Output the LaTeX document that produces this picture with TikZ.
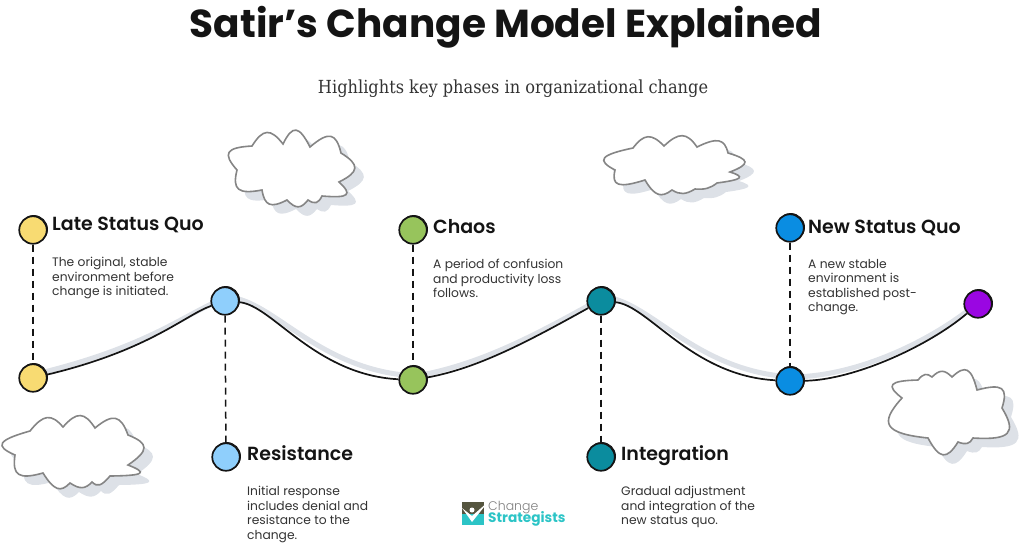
\documentclass[tikz,border=0pt]{standalone}
\usepackage{fontspec}
\usepackage{xcolor}
\usetikzlibrary{backgrounds,calc}
\setmainfont{Poppins}
\newfontfamily\subfont{DejaVu Serif Condensed}
\newfontfamily\headfont{Poppins SemiBold}
\newfontfamily\lightfont{Poppins Light}
\definecolor{shadegrey}{HTML}{DDE1E7}
\definecolor{cloudgrey}{HTML}{858585}
\definecolor{inkblack}{HTML}{141414}
\definecolor{bodygrey}{HTML}{333333}
\definecolor{yellowdot}{HTML}{F8DB72}
\definecolor{skydot}{HTML}{8FCFFC}
\definecolor{greendot}{HTML}{97C45C}
\definecolor{tealdot}{HTML}{0B8C9E}
\definecolor{bluedot}{HTML}{0A8DE2}
\definecolor{purpledot}{HTML}{9A06E2}
\definecolor{logoteal}{HTML}{2CC4C6}
\definecolor{logodark}{HTML}{55553F}
\tikzset{
  dotnode/.style={circle,draw=inkblack,line width=1.7pt,inner sep=0pt,minimum size=27.5pt,
    preaction={draw=inkblack,line width=1pt,transform canvas={xshift=.7pt,yshift=.7pt}}},
  headnode/.style={anchor=base west,inner sep=0pt,text=inkblack,font=\headfont\fontsize{19}{22}\selectfont},
  bodynode/.style={anchor=north west,inner sep=0pt,align=left,text=bodygrey,font=\fontsize{12.3}{14.5}\selectfont},
  stem/.style={draw=inkblack,line width=1.5pt,dash pattern=on 7pt off 5pt},
  wave/.style={draw=inkblack,line width=1.7pt},
  waveshade/.style={draw=shadegrey,line width=5pt},
  shadeat/.style={shift={(3,-4)}},
}
\newcommand{\lobe}[3]{.. controls ($(#1)!.76!(#2)$) and ($(#3)!.76!(#2)$) .. (#3)}
\newcommand{\cloudshape}[1]{%
  \fill[shadegrey,shift={(9,9)}] #1;
  \draw[cloudgrey,fill=white,line width=1.6pt] #1;
}
\begin{document}
\begin{tikzpicture}[x=1pt,y=-1pt]
\useasboundingbox (0,0) rectangle (1024,544);
%
\node (title) at (506,27) {\fontsize{39}{41}\selectfont\bfseries\color{inkblack}Satir's Change Model Explained};
\node (subtitle) at (513,89) {\subfont\fontsize{18}{22}\selectfont\color{bodygrey}Highlights key phases in organizational change};
%
\cloudshape{(237,170) \lobe{237,170}{217.5,148}{252,146} \lobe{252,146}{266.5,123}{283,144} \lobe{283,144}{295.5,118.5}{310,147} \lobe{310,147}{334.5,126}{341,153} \lobe{341,153}{366,168.5}{339,182} \lobe{339,182}{357.5,199}{322,196} \lobe{322,196}{317,206}{308,200} \lobe{308,200}{298.5,212}{287,200} \lobe{287,200}{265.5,211}{262,190} \lobe{262,190}{230.5,196}{237,170} -- cycle}
\cloudshape{(615,170) \lobe{615,170}{590,157}{633,148} \lobe{633,148}{647.5,129}{664,146} \lobe{664,146}{683.5,127.5}{697,147} \lobe{697,147}{723.5,134}{728,153} \lobe{728,153}{757,161.5}{730,172} \lobe{730,172}{750.5,178.5}{717,183} \lobe{717,183}{708,190}{695,189} \lobe{695,189}{682.5,196.5}{672,190} \lobe{672,190}{657.5,201}{645,180} \lobe{645,180}{610,191}{615,170} -- cycle}
\cloudshape{(15,455) \lobe{15,455}{-12.5,443}{30,431} \lobe{30,431}{47.5,409}{63,427} \lobe{63,427}{81,406.5}{95,428} \lobe{95,428}{118.5,408.5}{128,435} \lobe{128,435}{156,446}{128,465} \lobe{128,465}{155,475.5}{110,476} \lobe{110,476}{99,489}{92,482} \lobe{92,482}{83,491.5}{70,483} \lobe{70,483}{57.5,496}{43,473} \lobe{43,473}{11,482}{15,455} -- cycle}
\cloudshape{(902,398) \lobe{902,398}{880,381}{918,380} \lobe{918,380}{925,371.5}{932,377} \lobe{932,377}{942,367}{952,377} \lobe{952,377}{969.5,360.5}{977,390} \lobe{977,390}{1010.5,381}{1002,408} \lobe{1002,408}{1022,441}{973,438} \lobe{973,438}{968.5,446}{958,442} \lobe{958,442}{943,466}{928,438} \lobe{928,438}{871,432}{902,398} -- cycle}
%
\node[dotnode,fill=yellowdot] (lateTop) at (33,230) {};
\node[dotnode,fill=yellowdot] (lateDot) at (33,378) {};
\node[dotnode,fill=skydot] (resistDot) at (225,301) {};
\node[dotnode,fill=skydot] (resistEnd) at (226,457) {};
\node[dotnode,fill=greendot] (chaosTop) at (413,230) {};
\node[dotnode,fill=greendot] (chaosDot) at (413,380) {};
\node[dotnode,fill=tealdot] (integDot) at (601,301) {};
\node[dotnode,fill=tealdot] (integEnd) at (601,457) {};
\node[dotnode,fill=bluedot] (newTop) at (790,228) {};
\node[dotnode,fill=bluedot] (newDot) at (790,381) {};
\node[dotnode,fill=purpledot] (finalDot) at (978,304) {};
%
\begin{scope}[on background layer]
\draw[waveshade] ([shadeat]lateDot.center) .. controls +(117,-28) and +(-40,14) .. ([shadeat]resistDot.center);
\draw[waveshade] ([shadeat]resistDot.center) .. controls +(47,4) and +(-98,-5) .. ([shadeat]chaosDot.center);
\draw[waveshade] ([shadeat]chaosDot.center) .. controls +(67,-12) and +(-67,37) .. ([shadeat]integDot.center);
\draw[waveshade] ([shadeat]integDot.center) .. controls +(47,4) and +(-98,-5) .. ([shadeat]newDot.center);
\draw[waveshade] ([shadeat]newDot.center) .. controls +(65,-1) and +(-48,41) .. ([shadeat]finalDot.center);
\end{scope}
\draw[wave] (lateDot) .. controls +(117,-28) and +(-40,14) .. (resistDot);
\draw[wave] (resistDot) .. controls +(47,4) and +(-98,-5) .. (chaosDot);
\draw[wave] (chaosDot) .. controls +(67,-12) and +(-67,37) .. (integDot);
\draw[wave] (integDot) .. controls +(47,4) and +(-98,-5) .. (newDot);
\draw[wave] (newDot) .. controls +(65,-1) and +(-48,41) .. (finalDot);
%
\draw[stem] (lateTop) -- (lateDot);
\draw[stem] (resistDot) -- (resistEnd);
\draw[stem] (chaosTop) -- (chaosDot);
\draw[stem] (integDot) -- (integEnd);
\draw[stem] (newTop) -- (newDot);
%
\node[headnode] (lateHead) at (52,230) {Late Status Quo};
\node[bodynode] (lateBody) at (52,257) {The original, stable\\environment before\\change is initiated.};
\node[headnode] (resistHead) at (247,460) {Resistance};
\node[bodynode] (resistBody) at (247,486) {Initial response\\includes denial and\\resistance to the\\change.};
\node[headnode] (chaosHead) at (433,233) {Chaos};
\node[bodynode] (chaosBody) at (433,259) {A period of confusion\\and productivity loss\\follows.};
\node[headnode] (integHead) at (621,460) {Integration};
\node[bodynode] (integBody) at (621,486) {Gradual adjustment\\and integration of the\\new status quo.};
\node[headnode] (newHead) at (808,233) {New Status Quo};
\node[bodynode] (newBody) at (808,259) {A new stable\\environment is\\established post-\\change.};
%
\fill[logodark] (462,502) rectangle (484,514);
\fill[logoteal] (462,514) rectangle (484,525);
\fill[white] (462,508) -- (472,522) -- (488,502) -- (472,516) -- cycle;
\fill[white] (472,510) circle (2.5);
\node[anchor=west,inner sep=0pt,text=gray] (logoTop) at (488,508) {\lightfont\fontsize{12.5}{14}\selectfont Change};
\node[anchor=west,inner sep=0pt,text=logoteal] (logoBottom) at (488,519) {\fontsize{13.7}{14}\selectfont\bfseries Strategists};
%
\end{tikzpicture}
\end{document}
